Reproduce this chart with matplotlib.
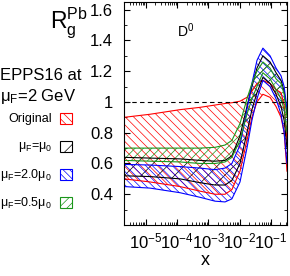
import matplotlib
matplotlib.use('Agg')
import matplotlib.pyplot as plt
from matplotlib.patches import Rectangle
from matplotlib.ticker import LogLocator, MultipleLocator, FixedLocator, NullFormatter

plt.rcParams['font.family'] = ['Liberation Sans', 'DejaVu Sans']
plt.rcParams['mathtext.fontset'] = 'custom'
plt.rcParams['mathtext.rm'] = 'Liberation Sans'
plt.rcParams['mathtext.it'] = 'Liberation Sans:italic'
plt.rcParams['hatch.linewidth'] = 0.5

# x positions of the band edges
x_vals = [2.0e-6, 1.35e-5, 1.23e-4, 5.4e-4, 1.62e-3, 3.39e-3, 5.62e-3, 1.02e-2, 1.70e-2,
          2.45e-2, 3.55e-2, 5.50e-2, 9.33e-2, 0.145, 0.209, 0.263, 0.324]

orig_hi = [0.90, 0.92, 0.95, 0.965, 0.98, 0.99, 0.995, 1.005, 1.03, 1.07, 1.12, 1.14, 1.12, 1.08, 1.06, 0.98, 0.75]
orig_lo = [0.50, 0.48, 0.45, 0.42, 0.40, 0.40, 0.43, 0.55, 0.75, 0.90, 1.00, 1.05, 1.03, 0.97, 0.90, 0.80, 0.55]

mu1_hi = [0.64, 0.635, 0.63, 0.62, 0.615, 0.62, 0.65, 0.78, 0.97, 1.10, 1.22, 1.30, 1.26, 1.19, 1.14, 1.07, 0.92]
mu1_lo = [0.52, 0.515, 0.50, 0.475, 0.46, 0.46, 0.49, 0.60, 0.80, 0.95, 1.06, 1.16, 1.12, 1.05, 0.97, 0.88, 0.70]

mu2_hi = [0.594, 0.59, 0.58, 0.57, 0.56, 0.57, 0.60, 0.72, 0.95, 1.12, 1.27, 1.35, 1.30, 1.22, 1.17, 1.10, 0.95]
mu2_lo = [0.45, 0.44, 0.41, 0.38, 0.355, 0.35, 0.37, 0.48, 0.70, 0.88, 1.02, 1.14, 1.10, 1.02, 0.92, 0.80, 0.60]

mu05_hi = [0.70, 0.70, 0.70, 0.70, 0.705, 0.72, 0.75, 0.86, 1.02, 1.12, 1.20, 1.26, 1.22, 1.15, 1.12, 1.05, 0.90]
mu05_lo = [0.62, 0.615, 0.61, 0.60, 0.60, 0.61, 0.64, 0.75, 0.92, 1.02, 1.10, 1.19, 1.15, 1.08, 1.02, 0.95, 0.80]

green = '#1a961a'
bands = [
    ('Original', orig_lo, orig_hi, 'red', '\\\\\\\\'),
    (r'$\mathregular{μ_F}$=$\mathregular{μ_0}$', mu1_lo, mu1_hi, 'black', '//'),
    (r'$\mathregular{μ_F}$=2.0$\mathregular{μ_0}$', mu2_lo, mu2_hi, 'blue', '\\\\\\\\\\'),
    (r'$\mathregular{μ_F}$=0.5$\mathregular{μ_0}$', mu05_lo, mu05_hi, green, '////'),
]

xtick_vals = [1e-5, 1e-4, 1e-3, 1e-2, 1e-1]
xtick_labels = [r'$\mathregular{10^{-5}}$', r'$\mathregular{10^{-4}}$', r'$\mathregular{10^{-3}}$',
                r'$\mathregular{10^{-2}}$', r'$\mathregular{10^{-1}}$']
ytick_vals = [0.4, 0.6, 0.8, 1.0, 1.2, 1.4, 1.6]
ytick_labels = ['0.4', '0.6', '0.8', '1', '1.2', '1.4', '1.6']

fig = plt.figure(figsize=(2.9, 2.76), dpi=100)
ax = fig.add_axes([124 / 290, 51 / 276, 163 / 290, 223 / 276])

for label, lo, hi, col, hatch in bands:
    ax.fill_between(x_vals, lo, hi, facecolor='none', edgecolor=col, hatch=hatch, linewidth=0)
    ax.plot(x_vals, lo, color=col, lw=0.8)
    ax.plot(x_vals, hi, color=col, lw=0.8)

ax.axhline(1.0, color='black', ls=(0, (4, 3)), lw=0.8)

ax.set_xscale('log')
ax.set_xlim(2.0e-6, 0.324)
ax.set_ylim(0.2, 1.65)
ax.xaxis.set_major_locator(FixedLocator(xtick_vals))
ax.set_xticks(xtick_vals, xtick_labels)
ax.xaxis.set_minor_locator(LogLocator(base=10, subs=range(2, 10), numticks=20))
ax.xaxis.set_minor_formatter(NullFormatter())
ax.set_yticks(ytick_vals, ytick_labels)
ax.yaxis.set_minor_locator(MultipleLocator(0.1))
ax.tick_params(which='both', direction='in', top=True, right=True, labelsize=12)
ax.tick_params(which='major', length=4, width=0.8)
ax.tick_params(which='minor', length=2, width=0.6)
ax.tick_params(axis='y', pad=8)
ax.tick_params(axis='x', pad=5)
for s in ax.spines.values():
    s.set_linewidth(0.8)

ax.set_xlabel('x', fontsize=13, labelpad=0)
ax.text(9.8e-5, 1.42, r'$\mathregular{D^0}$', fontsize=10)

fig.text(50 / 290, 1 - 28 / 276, r'$\mathregular{R_g^{Pb}}$', fontsize=16.5, ha='left', va='baseline')
fig.text(0, 1 - 80 / 276, 'EPPS16 at', fontsize=12, ha='left', va='baseline')
fig.text(0, 1 - 101 / 276, r'$\mathregular{μ_F}$=2 GeV', fontsize=12, ha='left', va='baseline')

# legend drawn by hand to the left of the axes
leg_y = [119, 147, 175, 203]
for (label, lo, hi, col, hatch), yc in zip(bands, leg_y):
    fig.text(52 / 290, 1 - yc / 276, label, fontsize=9, ha='right', va='center')
    fig.patches.append(Rectangle((60 / 290, 1 - (yc + 5) / 276), 12 / 290, 11 / 276,
                                 transform=fig.transFigure, facecolor='none',
                                 edgecolor=col, hatch=hatch, lw=0.8))

fig.savefig('out.png', dpi=100)
